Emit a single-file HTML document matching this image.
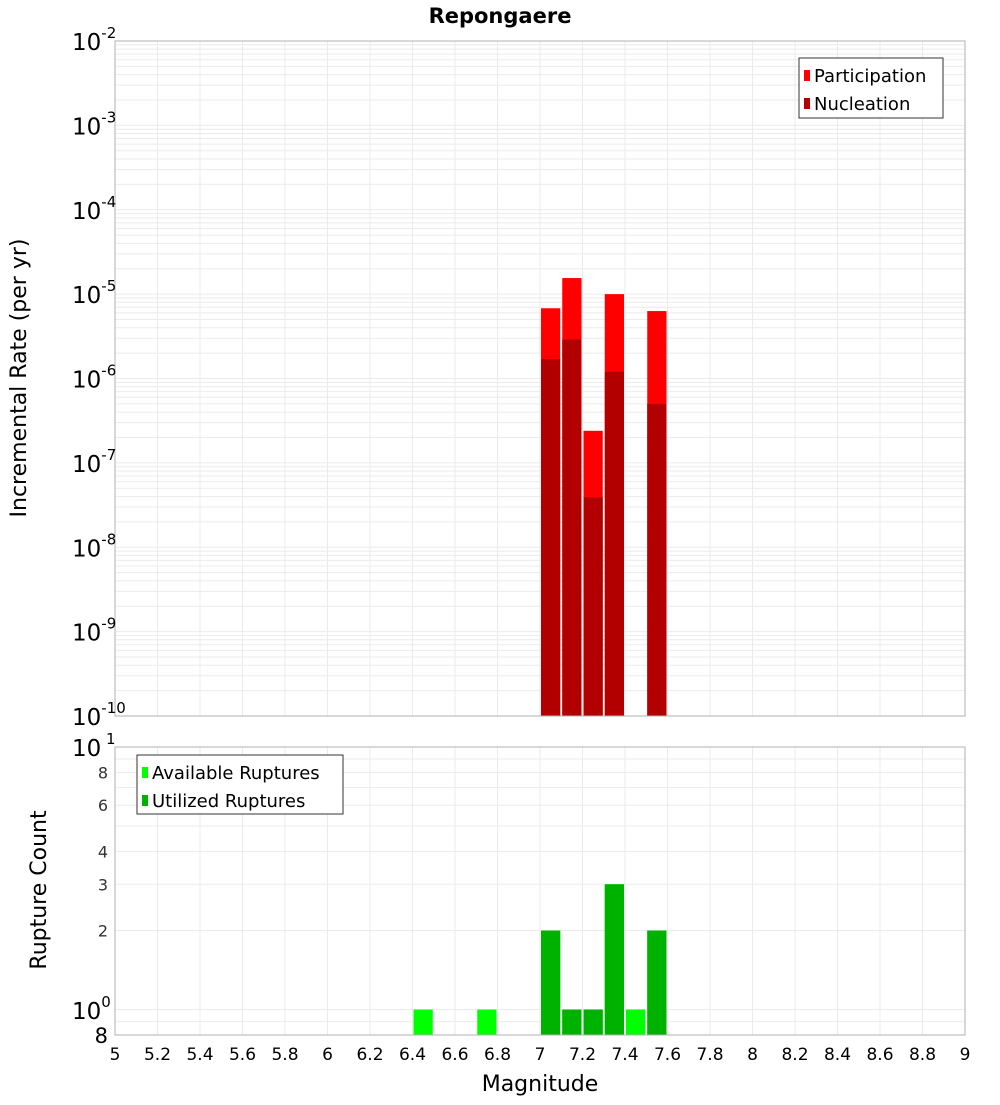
<!DOCTYPE html>
<html><head><meta charset="utf-8"><style>
body{margin:0;background:#fff;}
svg text{font-family:"DejaVu Sans","Liberation Sans",sans-serif;}
</style></head><body>
<svg id="c" width="1000" height="1100" xmlns="http://www.w3.org/2000/svg"></svg>
<script>
const mags = [6.45, 6.75, 7.05, 7.15, 7.25, 7.35, 7.45, 7.55];
const participation = [0, 0, 6.8e-6, 1.55e-5, 2.4e-7, 1.0e-5, 0, 6.3e-6];
const nucleation = [0, 0, 1.7e-6, 2.9e-6, 3.9e-8, 1.2e-6, 0, 5.0e-7];
const available = [1, 1, 2, 1, 1, 3, 1, 2];
const utilized = [0, 0, 2, 1, 1, 3, 0, 2];
const xTicks = [5,5.2,5.4,5.6,5.8,6,6.2,6.4,6.6,6.8,7,7.2,7.4,7.6,7.8,8,8.2,8.4,8.6,8.8,9];
const topExps = [-2,-3,-4,-5,-6,-7,-8,-9,-10];
const botTicks = [8,6,4,3,2];

const svg = document.getElementById('c');
const NS = 'http://www.w3.org/2000/svg';
function mk(tag, attrs, parent){const e=document.createElementNS(NS,tag);for(const k in attrs)e.setAttribute(k,attrs[k]);(parent||svg).appendChild(e);return e;}
const L=115,R=965, T1=41,B1=716, T2=747,B2=1035;
const xs = m => L + (m-5)/4*(R-L);
const y1 = v => T1 + (-2 - Math.log10(v))*(B1-T1)/8;
const y2 = v => B2 - (Math.log10(v) - Math.log10(0.8))*(B2-T2)/(1-Math.log10(0.8));

// title
let t=mk('text',{x:500,y:23,'text-anchor':'middle','font-size':21,'font-weight':'bold'});
t.textContent='Repongaere';

// grids
for(const m of xTicks){
  let g=mk('line',{x1:xs(m),x2:xs(m),y1:T1,y2:B1,stroke:'#ebebeb'});
  
  let g2=mk('line',{x1:xs(m),x2:xs(m),y1:T2,y2:B2,stroke:'#ebebeb'});
  
}
for(let e=-10;e<-2;e++){for(let k=1;k<10;k++){const y=y1(k*Math.pow(10,e));
  let g=mk('line',{x1:L,x2:R,y1:y,y2:y,stroke:'#ebebeb'});}}
for(const v of [0.8,0.9,1,2,3,4,5,6,7,8,9]){const y=y2(v);
  let g=mk('line',{x1:L,x2:R,y1:y,y2:y,stroke:'#ebebeb'});}

// top bars
const bw=(R-L)/40;
mags.forEach((m,i)=>{
  const x0=xs(m)-bw/2+1,w=bw-2;
  if(participation[i]>0){let b=mk('rect',{x:x0,y:y1(participation[i]),width:w,height:B1-y1(participation[i]),fill:'#ff0000'});
    }
  if(nucleation[i]>0){let b=mk('rect',{x:x0,y:y1(nucleation[i]),width:w,height:B1-y1(nucleation[i]),fill:'#b20000'});
    }
  if(available[i]>0){let b=mk('rect',{x:x0,y:y2(available[i]),width:w,height:B2-y2(available[i]),fill:'#00ff00'});
    }
  if(utilized[i]>0){let b=mk('rect',{x:x0,y:y2(utilized[i]),width:w,height:B2-y2(utilized[i]),fill:'#00b200'});
    }
});

// frames
let f1=mk('rect',{x:L,y:T1,width:R-L,height:B1-T1,fill:'none',stroke:'#b0b0b0'});
let f2=mk('rect',{x:L,y:T2,width:R-L,height:B2-T2,fill:'none',stroke:'#b0b0b0'});

// top y ticks
topExps.forEach(e=>{
  const y=y1(Math.pow(10,e));
  let tx=mk('text',{x:72,y:y+9,'font-size':23});
  
  tx.innerHTML='10<tspan dy="-12" font-size="15">'+(e<0?'-':'')+Math.abs(e)+'</tspan>';
});
// bottom y ticks
let a=mk('text',{x:72,y:756,'font-size':23});a.innerHTML='10<tspan dy="-12" font-size="15"> 1</tspan>';
let b0=mk('text',{x:72,y:1019,'font-size':23});b0.innerHTML='10<tspan dy="-12" font-size="15">0</tspan>';
let b8=mk('text',{x:108,y:1043,'font-size':21,'text-anchor':'end'});b8.textContent='8';
botTicks.forEach(v=>{let tx=mk('text',{x:108,y:y2(v)+6,'font-size':16,'text-anchor':'end',fill:'#333'});
  tx.textContent=v;});

// x ticks
xTicks.forEach(m=>{let tx=mk('text',{x:xs(m),y:1060,'font-size':17,'text-anchor':'middle'});
  tx.textContent=String(Math.round(m*10)/10);});

// axis titles
let xt=mk('text',{x:540,y:1091,'font-size':22,'text-anchor':'middle'});xt.textContent='Magnitude';
let yt=mk('text',{x:0,y:0,'font-size':22,'text-anchor':'middle',transform:'translate(26,378) rotate(-90)'});yt.textContent='Incremental Rate (per yr)';
let yb=mk('text',{x:0,y:0,'font-size':22,'text-anchor':'middle',transform:'translate(46,890) rotate(-90)'});yb.textContent='Rupture Count';

// legends
function legend(x,y,w,h,items,name){
  let r=mk('rect',{x:x,y:y,width:w,height:h,fill:'#fff',stroke:'#333'});
  items.forEach((it,i)=>{
    let s=mk('rect',{x:x+5,y:y+12+i*28,width:6,height:11,fill:it[1]});
    let tx=mk('text',{x:x+15,y:y+24+i*28,'font-size':18});tx.textContent=it[0];
  });
}
legend(799,58,144,60,[['Participation','#ff0000'],['Nucleation','#b20000']],'top-legend');
legend(137,755,206,59,[['Available Ruptures','#00ff00'],['Utilized Ruptures','#00b200']],'bottom-legend');
</script>
</body></html>
